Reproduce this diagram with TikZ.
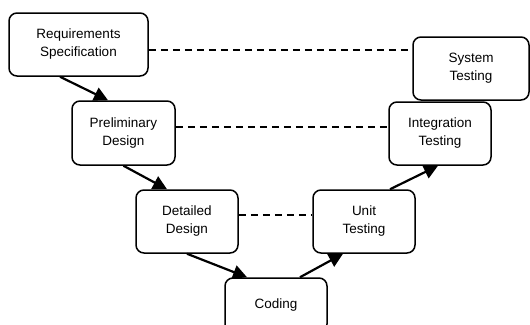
\documentclass[tikz,border=0pt]{standalone}
\usepackage{fontspec}
\setmainfont{Liberation Sans}
\usetikzlibrary{arrows.meta}
\begin{document}
\begin{tikzpicture}[x=1pt,y=-1pt,
  phase/.style={draw=black, line width=1.5pt, rounded corners=8pt, fill=white,
    align=center, inner sep=0pt, font=\fontsize{13.5}{18}\selectfont},
  flow/.style={line width=2.2pt, -{Triangle[length=14pt,width=14pt]}},
  link/.style={line width=1.6pt, dash pattern=on 7pt off 5pt}]
\useasboundingbox (0,0) rectangle (530,324);
\fill[white] (0,0) rectangle (530,324);

% left branch: specification and design
\node[phase, minimum width=139pt, minimum height=63pt] (req) at (78.5,44.5) {Requirements\\Specification};
\node[phase, minimum width=103pt, minimum height=64pt] (pre) at (123.5,133) {Preliminary\\Design};
\node[phase, minimum width=102pt, minimum height=63pt] (det) at (187,221.5) {Detailed\\Design};
% bottom
\node[phase, minimum width=102pt, minimum height=54pt] (cod) at (276,305) {Coding};
% right branch: testing
\node[phase, minimum width=102pt, minimum height=63pt] (unit) at (364,221.5) {Unit\\Testing};
\node[phase, minimum width=102pt, minimum height=63pt] (integ) at (440,133.5) {Integration\\Testing};
\node[phase, minimum width=116pt, minimum height=63pt] (sys) at (471,68.5) {System\\Testing};

% flow down and up the V
\draw[flow] ([xshift=-18.5pt]req.south) -- ([xshift=-15.5pt]pre.north);
\draw[flow] (pre.south) -- ([xshift=-20pt]det.north);
\draw[flow] (det.south) -- ([xshift=-29pt]cod.north);
\draw[flow] ([xshift=24pt]cod.north) -- ([xshift=-21pt]unit.south);
\draw[flow] ([xshift=26pt]unit.north) -- ([xshift=-2pt]integ.south);

% correspondence between levels
\draw[link] ([yshift=-5.5pt]req.east) -- ([yshift=-5.5pt]req.east -| sys.west);
\draw[link] ([yshift=6pt]pre.east) -- ([yshift=6pt]pre.east -| integ.west);
\draw[link] ([yshift=6.5pt]det.east) -- ([yshift=6.5pt]det.east -| unit.west);
\end{tikzpicture}
\end{document}
